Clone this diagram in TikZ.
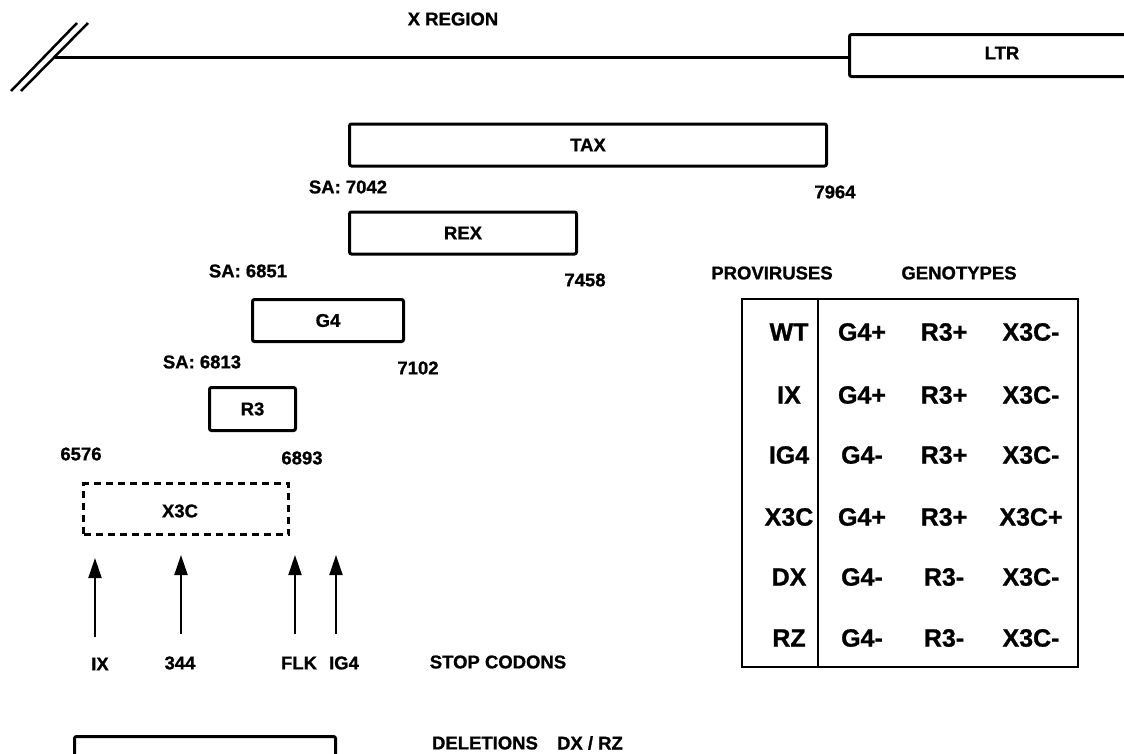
\documentclass[tikz,border=0pt]{standalone}
\usepackage{fontspec}
\setmainfont{Liberation Sans}[BoldFeatures={FakeBold=1}]
\usetikzlibrary{arrows.meta}

\tikzset{
  lbl/.style={font=\fontsize{18.5}{20}\selectfont\bfseries, inner sep=0pt},
  gene/.style={draw, line width=3pt, rounded corners=2pt, lbl},
  cell/.style={font=\fontsize{25}{28}\selectfont\bfseries, inner sep=0pt},
  stoparrow/.style={line width=2pt, -{Triangle[length=20pt,width=13pt]}}
}

\begin{document}
\begin{tikzpicture}[x=1pt, y=-1pt]
    \useasboundingbox (0,0) rectangle (1124,753);

    % genome line with break and LTR
    \coordinate (s1a) at (11,91);
    \coordinate (s1b) at (77,23);
    \coordinate (s2a) at (21,91);
    \coordinate (s2b) at (88,23);
    \draw[line width=2.5pt] (s1a) -- (s1b);
    \draw[line width=2.5pt] (s2a) -- (s2b);
    \coordinate (xstart) at (55,57);
    \coordinate (xend) at (848,57);
    \draw[line width=3pt] (xstart) -- (xend);
    \draw[line width=3pt, rounded corners=2pt] (1126,34.5) -- (849.5,34.5) -- (849.5,76.5) -- (1126,76.5);
    \node[lbl] (ltr) at (1002,53) {LTR};
    \node[lbl] (xreg) at (453,19) {X REGION};

    % open reading frames
    \node[gene, minimum width=477pt, minimum height=42pt] (tax) at (588,145) {TAX};
    \node[lbl] (sa7042) at (348,187) {SA: 7042};
    \node[lbl] (e7964) at (835,192) {7964};

    \node[gene, minimum width=227pt, minimum height=42pt] (rex) at (463,233) {REX};
    \node[lbl] (sa6851) at (248,271) {SA: 6851};
    \node[lbl] (e7458) at (585,280) {7458};

    \node[gene, minimum width=151pt, minimum height=42pt] (g4) at (328,320.5) {G4};
    \node[lbl] (sa6813) at (202,362) {SA: 6813};
    \node[lbl] (e7102) at (418,368) {7102};

    \node[gene, minimum width=86pt, minimum height=43pt] (r3) at (252.5,409) {R3};
    \node[lbl] (s6576) at (81,454) {6576};
    \node[lbl] (e6893) at (302,458) {6893};

    \node[gene, dash pattern=on 7pt off 5pt, rounded corners=0pt, minimum width=205pt, minimum height=51pt] (x3c) at (186,509) {};
    \node[lbl] at (180,511) {X3C};

    % stop codons
    \coordinate (ix0) at (95,637);
    \coordinate (ix1) at (95,558);
    \coordinate (n3440) at (181,634);
    \coordinate (n3441) at (181,555);
    \coordinate (flk0) at (295,634);
    \coordinate (flk1) at (295,555);
    \coordinate (ig40) at (336,634);
    \coordinate (ig41) at (336,555);
    \draw[stoparrow] (ix0) -- (ix1);
    \draw[stoparrow] (n3440) -- (n3441);
    \draw[stoparrow] (flk0) -- (flk1);
    \draw[stoparrow] (ig40) -- (ig41);
    \node[lbl] (ix) at (100,664) {IX};
    \node[lbl] (n344) at (180,663) {344};
    \node[lbl] (flk) at (299,663) {FLK};
    \node[lbl] (ig4) at (344,663) {IG4};
    \node[lbl] (stop) at (498,662) {STOP CODONS};

    % deletions
    \draw[line width=3pt, rounded corners=2pt] (74.5,755) -- (74.5,736.5) -- (335.5,736.5) -- (335.5,755);
    \node[lbl] (del) at (485,743) {DELETIONS};
    \node[lbl] (dxrz) at (590,743) {DX / RZ};

    % genotype table
    \node[lbl] (prov) at (772,273) {PROVIRUSES};
    \node[lbl] (geno) at (959,273) {GENOTYPES};
    \draw[line width=2pt] (742,299) rectangle (1078,667);
    \draw[line width=2pt] (818,299) -- (818,667);
    \foreach \y/\p/\g/\r/\x in {332/WT/G4+/R3+/X3C-, 395/IX/G4+/R3+/X3C-,
        455/IG4/G4-/R3+/X3C-, 517/X3C/G4+/R3+/X3C+, 577/DX/G4-/R3-/X3C-,
        638/RZ/G4-/R3-/X3C-} {
        \node[cell] (pv\p) at (789,\y) {\p};
        \node[cell] (g\p) at (862,\y) {\g};
        \node[cell] (r\p) at (944,\y) {\r};
        \node[cell] (x\p) at (1031,\y) {\x};
    }
\end{tikzpicture}
\end{document}
